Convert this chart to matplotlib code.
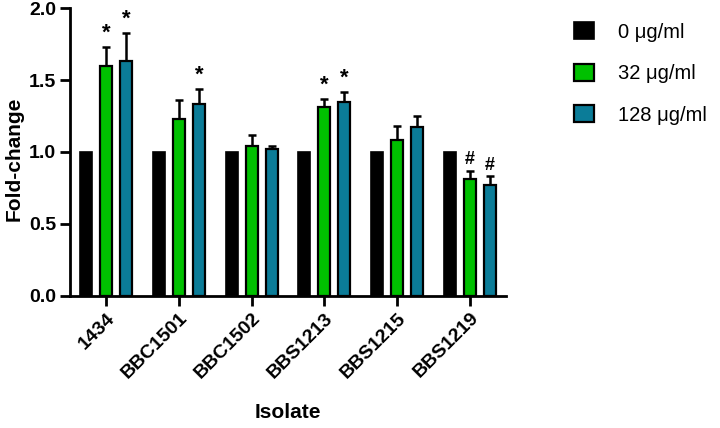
import numpy as np
import matplotlib
matplotlib.use("Agg")
from matplotlib import pyplot as plt

plt.rcParams['font.family'] = ['Liberation Sans', 'DejaVu Sans']

# data
isolates = ['1434', 'BBC1501', 'BBC1502', 'BBS1213', 'BBS1215', 'BBS1219']
series_names = ['0 \u03bcg/ml', '32 \u03bcg/ml', '128 \u03bcg/ml']
fold_0 = [1.0, 1.0, 1.0, 1.0, 1.0, 1.0]
fold_32 = [1.60, 1.23, 1.04, 1.31, 1.08, 0.81]
fold_128 = [1.63, 1.33, 1.02, 1.35, 1.17, 0.77]
err_32 = [0.13, 0.13, 0.08, 0.06, 0.10, 0.06]
err_128 = [0.20, 0.11, 0.02, 0.07, 0.08, 0.06]
marks_32 = ['*', '', '', '*', '', '#']
marks_128 = ['*', '*', '', '*', '', '#']

colors = ['#000000', '#00c000', '#0b7c98']

fig = plt.figure(figsize=(7.2, 4.28), dpi=100)
ax = fig.add_axes([0.097, 0.309, 0.606, 0.672])

x = np.arange(len(isolates))
pitch = 0.274
width = 0.165

ax.bar(x - pitch, fold_0, width, color=colors[0], edgecolor='black',
       linewidth=1.2, label=series_names[0], zorder=2)
ax.bar(x, fold_32, width, color=colors[1], edgecolor='black',
       linewidth=1.6, label=series_names[1], zorder=2)
ax.bar(x + pitch, fold_128, width, color=colors[2], edgecolor='black',
       linewidth=1.6, label=series_names[2], zorder=2)

# upper error bars only
ax.errorbar(x, fold_32, yerr=[np.zeros(len(x)), err_32], fmt='none',
            ecolor='black', elinewidth=1.8, capsize=3, capthick=1.8, zorder=1)
ax.errorbar(x + pitch, fold_128, yerr=[np.zeros(len(x)), err_128], fmt='none',
            ecolor='black', elinewidth=1.8, capsize=3, capthick=1.8, zorder=1)

# significance marks
for i in range(len(x)):
    for dx, v, e, m in [(0, fold_32[i], err_32[i], marks_32[i]),
                        (pitch, fold_128[i], err_128[i], marks_128[i])]:
        if m == '':
            continue
        ax.text(x[i] + dx, v + e + 0.02, m, ha='center', va='bottom',
                fontsize=16 if m == '*' else 13, fontweight='bold')

ax.set_xlim(-0.5, 5.5)
ax.set_ylim(0, 2.0)
ax.set_yticks([0.0, 0.5, 1.0, 1.5, 2.0])
ax.set_yticklabels(['0.0', '0.5', '1.0', '1.5', '2.0'])
ax.set_xticks(x)
ax.set_xticklabels(isolates, rotation=45, ha='right', rotation_mode='anchor')

for lab in ax.get_xticklabels() + ax.get_yticklabels():
    lab.set_fontweight('bold')
    lab.set_fontsize(14)

ax.spines['top'].set_visible(False)
ax.spines['right'].set_visible(False)
ax.spines['left'].set_linewidth(2)
ax.spines['bottom'].set_linewidth(2)
ax.tick_params(axis='both', width=2, length=7, pad=3)

# axis titles placed by hand
fig.text(0.019, 0.63, 'Fold-change', rotation=90, ha='center', va='center',
         fontsize=15, fontweight='bold')
fig.text(0.40, 0.037, 'Isolate', ha='center', va='center',
         fontsize=15, fontweight='bold')

leg = fig.legend(loc='upper left', bbox_to_anchor=(0.772, 0.99), frameon=False,
                 fontsize=14.5, handlelength=1.0, handleheight=0.9,
                 labelspacing=1.1, handletextpad=1.2)

plt.savefig('out.png', dpi=100)
